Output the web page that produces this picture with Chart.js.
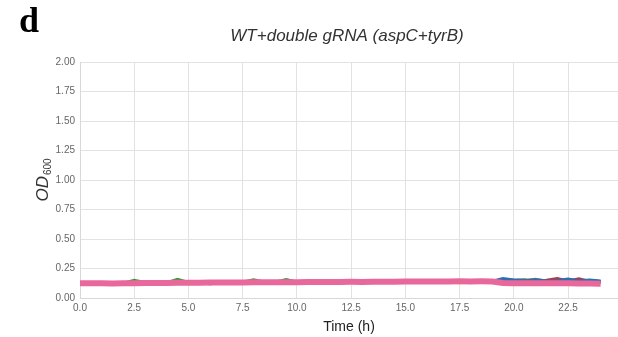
<!DOCTYPE html>
<html>
<head>
  <title>OD600 - WT+double gRNA</title>
  <script src="https://cdn.jsdelivr.net/npm/chart.js"></script>
  <style>
    body {
      margin: 0;
      background: #fff;
    }
    #wrap {
      width: 618px;
      height: 337px;
    }
  </style>
</head>
<body>
  <div id="wrap"><canvas id="odChart" width="618" height="337"></canvas></div>

  <script>
    // sampling times (h)
    const times = [0, 0.5, 1, 1.5, 2, 2.5, 3, 3.5, 4, 4.5,
      5, 5.5, 6, 6.5, 7, 7.5, 8, 8.5, 9, 9.5,
      10, 10.5, 11, 11.5, 12, 12.5, 13, 13.5, 14, 14.5,
      15, 15.5, 16, 16.5, 17, 17.5, 18, 18.5, 19, 19.5,
      20, 20.5, 21, 21.5, 22, 22.5, 23, 23.5, 24];

    // OD600 readings per replicate
    const pinkOD = [0.125, 0.124, 0.124, 0.123, 0.124, 0.126, 0.127, 0.127, 0.128, 0.129,
      0.130, 0.130, 0.131, 0.131, 0.132, 0.132, 0.133, 0.133, 0.134, 0.133,
      0.134, 0.135, 0.135, 0.136, 0.136, 0.137, 0.136, 0.137, 0.138, 0.138,
      0.139, 0.139, 0.140, 0.139, 0.140, 0.141, 0.140, 0.141, 0.140, 0.128,
      0.126, 0.125, 0.124, 0.126, 0.125, 0.124, 0.123, 0.122, 0.121];
    const blueOD = [0.128, 0.127, 0.126, 0.126, 0.127, 0.128, 0.129, 0.130, 0.130, 0.131,
      0.132, 0.131, 0.133, 0.133, 0.134, 0.133, 0.135, 0.134, 0.135, 0.136,
      0.135, 0.136, 0.137, 0.136, 0.138, 0.137, 0.138, 0.138, 0.139, 0.140,
      0.139, 0.140, 0.141, 0.140, 0.141, 0.142, 0.141, 0.142, 0.143, 0.165,
      0.152, 0.146, 0.156, 0.144, 0.148, 0.160, 0.146, 0.152, 0.145];
    const greenOD = [0.127, 0.126, 0.127, 0.125, 0.126, 0.150, 0.132, 0.128, 0.130, 0.158,
      0.131, 0.132, 0.133, 0.132, 0.134, 0.133, 0.155, 0.135, 0.134, 0.157,
      0.136, 0.135, 0.136, 0.137, 0.136, 0.138, 0.137, 0.138, 0.137, 0.139,
      0.140, 0.139, 0.140, 0.141, 0.140, 0.141, 0.142, 0.141, 0.140, 0.145,
      0.148, 0.150, 0.142, 0.140, 0.143, 0.141, 0.144, 0.139, 0.138];
    const redOD = [0.124, 0.123, 0.122, 0.121, 0.122, 0.124, 0.125, 0.124, 0.126, 0.127,
      0.128, 0.127, 0.129, 0.130, 0.129, 0.131, 0.130, 0.132, 0.131, 0.132,
      0.133, 0.132, 0.134, 0.133, 0.134, 0.135, 0.134, 0.136, 0.135, 0.137,
      0.136, 0.138, 0.137, 0.138, 0.139, 0.138, 0.139, 0.140, 0.139, 0.150,
      0.142, 0.146, 0.138, 0.150, 0.166, 0.145, 0.162, 0.140, 0.138];
    const orangeOD = [0.126, 0.125, 0.125, 0.124, 0.125, 0.126, 0.127, 0.128, 0.129, 0.128,
      0.130, 0.131, 0.130, 0.132, 0.133, 0.132, 0.134, 0.133, 0.135, 0.134,
      0.135, 0.136, 0.135, 0.137, 0.136, 0.148, 0.137, 0.138, 0.139, 0.138,
      0.139, 0.140, 0.139, 0.141, 0.140, 0.142, 0.141, 0.140, 0.142, 0.155,
      0.145, 0.150, 0.158, 0.143, 0.146, 0.150, 0.142, 0.148, 0.140];
    const yellowOD = [0.122, 0.121, 0.120, 0.121, 0.122, 0.121, 0.123, 0.124, 0.125, 0.124,
      0.126, 0.127, 0.126, 0.128, 0.127, 0.129, 0.150, 0.130, 0.129, 0.131,
      0.130, 0.132, 0.131, 0.133, 0.132, 0.145, 0.133, 0.134, 0.133, 0.135,
      0.134, 0.136, 0.135, 0.137, 0.136, 0.128, 0.137, 0.138, 0.137, 0.132,
      0.140, 0.138, 0.130, 0.136, 0.139, 0.133, 0.141, 0.137, 0.134];
    const navyOD = [0.124, 0.123, 0.122, 0.116, 0.123, 0.124, 0.125, 0.126, 0.125, 0.127,
      0.128, 0.127, 0.120, 0.129, 0.130, 0.129, 0.131, 0.130, 0.122, 0.132,
      0.131, 0.133, 0.132, 0.134, 0.133, 0.135, 0.134, 0.136, 0.135, 0.137,
      0.136, 0.138, 0.137, 0.139, 0.138, 0.140, 0.139, 0.141, 0.140, 0.148,
      0.150, 0.152, 0.140, 0.138, 0.145, 0.150, 0.142, 0.138, 0.136];

    const panelLetter = 'd';
    const chartTitle = 'WT+double gRNA (aspC+tyrB)';

    // first one ends up on top
    const series = [
      { values: pinkOD, color: '#e8689c', width: 6 },
      { values: blueOD, color: '#2f6fb0', width: 3 },
      { values: greenOD, color: '#3a9a3a', width: 3 },
      { values: redOD, color: '#cf2f2f', width: 3 },
      { values: orangeOD, color: '#f5901e', width: 3 },
      { values: yellowOD, color: '#f2cc3a', width: 3 },
      { values: navyOD, color: '#2b2f5e', width: 3 }
    ];

    // title, panel letter and OD600 label (needs a subscript)
    const extraText = {
      id: 'extraText',
      afterDraw(chart) {
        const ctx = chart.ctx;
        const area = chart.chartArea;
        ctx.save();
        ctx.fillStyle = '#000';
        ctx.font = 'bold 36px "Liberation Serif"';
        ctx.textBaseline = 'alphabetic';
        ctx.textAlign = 'left';
        ctx.fillText(panelLetter, 19, 32);

        ctx.fillStyle = '#333';
        ctx.font = 'italic 17px "Liberation Sans"';
        ctx.textAlign = 'center';
        ctx.textBaseline = 'middle';
        ctx.fillText(chartTitle, (area.left + area.right) / 2 - 2, 36);

        ctx.translate(42, (area.top + area.bottom) / 2);
        ctx.rotate(-Math.PI / 2);
        ctx.textAlign = 'left';
        ctx.textBaseline = 'alphabetic';
        ctx.font = 'italic 17px "Liberation Sans"';
        const w1 = ctx.measureText('OD').width;
        ctx.font = '10px "Liberation Sans"';
        const w2 = ctx.measureText('600').width;
        const x0 = -(w1 + w2 + 1) / 2;
        ctx.font = 'italic 17px "Liberation Sans"';
        ctx.fillText('OD', x0, 6);
        ctx.font = '10px "Liberation Sans"';
        ctx.fillText('600', x0 + w1 + 1, 9);
        ctx.restore();
      }
    };

    const ctx = document.getElementById('odChart').getContext('2d');
    new Chart(ctx, {
      type: 'line',
      data: {
        datasets: series.map(s => ({
          data: times.map((t, i) => ({ x: t, y: s.values[i] })),
          borderColor: s.color,
          borderWidth: s.width,
          pointRadius: 0,
          tension: 0,
          fill: false
        }))
      },
      options: {
        responsive: false,
        animation: false,
        layout: { padding: { top: 62, left: 0, right: 0, bottom: 0 } },
        plugins: {
          legend: { display: false },
          tooltip: { enabled: false }
        },
        scales: {
          x: {
            type: 'linear',
            min: 0,
            max: 24.8,
            afterFit: s => { s.height = 39; },
            grid: { color: '#e2e2e2', drawTicks: false },
            border: { color: '#d8d8d8' },
            ticks: {
              stepSize: 2.5,
              includeBounds: false,
              autoSkip: false,
              maxRotation: 0,
              padding: 4,
              color: '#666',
              font: { family: 'Liberation Sans', size: 10 },
              callback: v => v.toFixed(1)
            },
            title: {
              display: true,
              text: 'Time (h)',
              color: '#222',
              font: { family: 'Liberation Sans', size: 14 },
              padding: { top: 2, bottom: 1 }
            }
          },
          y: {
            min: 0,
            max: 2,
            afterFit: s => { s.width = 80; },
            grid: { color: '#e2e2e2', drawTicks: false },
            border: { color: '#d8d8d8' },
            ticks: {
              stepSize: 0.25,
              padding: 5,
              color: '#666',
              font: { family: 'Liberation Sans', size: 10 },
              callback: v => v.toFixed(2)
            }
          }
        }
      },
      plugins: [extraText]
    });
  </script>
</body>
</html>
